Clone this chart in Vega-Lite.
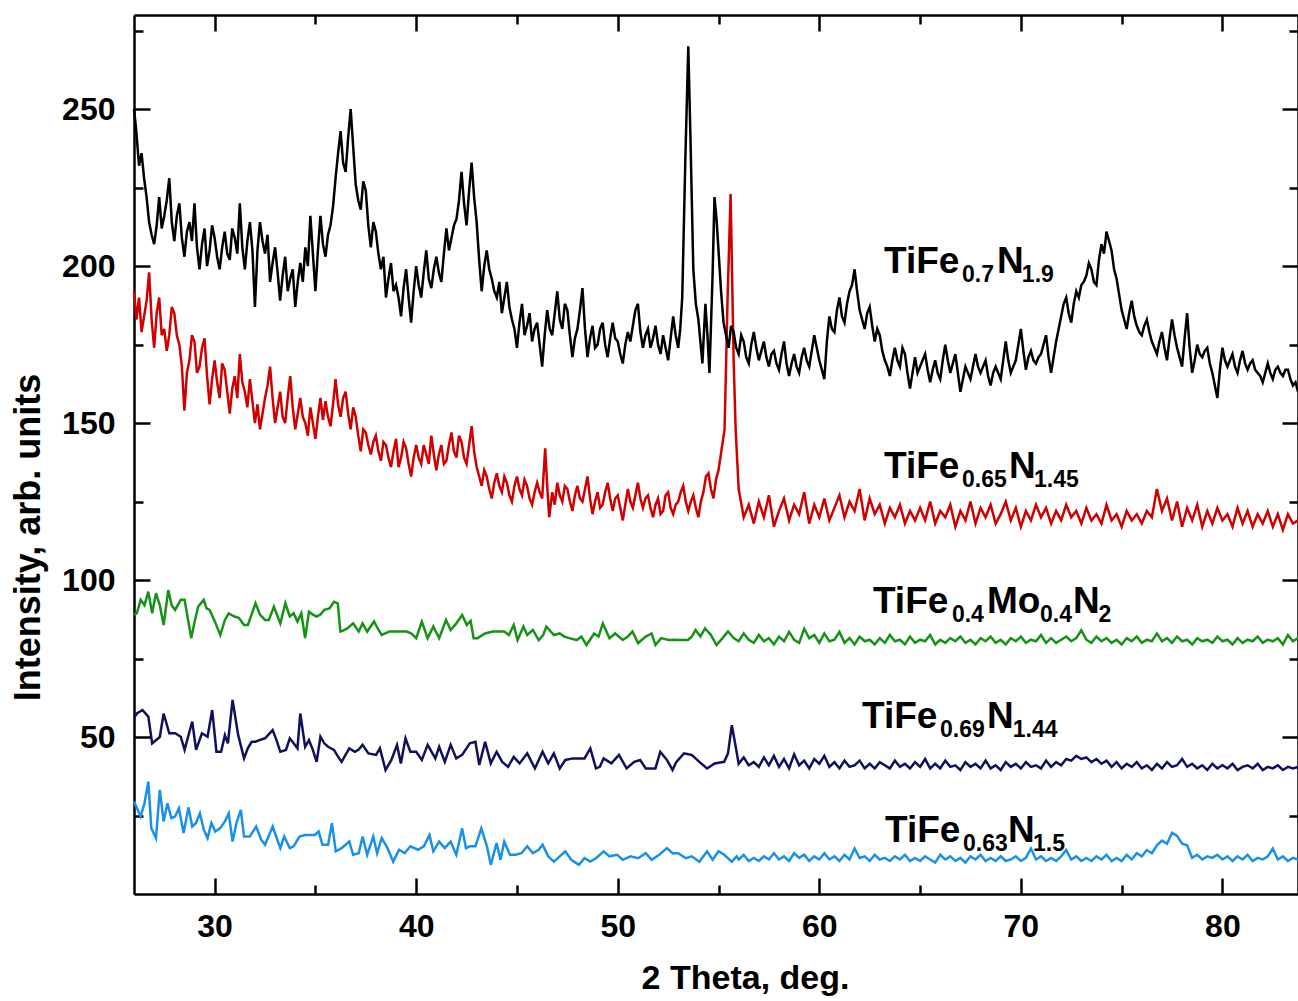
{
  "$schema": "https://vega.github.io/schema/vega-lite/v6.json",
  "autosize": "none",
  "width": 1164,
  "height": 879,
  "padding": {"left": 134, "top": 15, "right": 0, "bottom": 107},
  "background": "white",
  "config": {"view": {"stroke": null}, "font": "Liberation Sans", "axis": {"grid": false}},
  "datasets": {
    "k": [
      {"x":26.0,"y":250},{"x":26.1,"y":244},{"x":26.25,"y":232},{"x":26.375,"y":236},{"x":26.5,"y":228},{"x":26.625,"y":222},{"x":26.75,"y":214},{"x":26.875,"y":210},{"x":27.0,"y":207},{"x":27.125,"y":213},{"x":27.25,"y":222},{"x":27.375,"y":212},{"x":27.5,"y":216},{"x":27.625,"y":221},{"x":27.75,"y":228},{"x":27.875,"y":214},{"x":28.0,"y":208},{"x":28.125,"y":216},{"x":28.25,"y":220},{"x":28.375,"y":209},{"x":28.5,"y":203},{"x":28.625,"y":211},{"x":28.75,"y":214},{"x":28.875,"y":208},{"x":29.0,"y":220},{"x":29.125,"y":206},{"x":29.25,"y":199},{"x":29.375,"y":207},{"x":29.5,"y":212},{"x":29.625,"y":200},{"x":29.75,"y":205},{"x":29.875,"y":213},{"x":30.0,"y":209},{"x":30.125,"y":203},{"x":30.25,"y":199},{"x":30.375,"y":206},{"x":30.5,"y":211},{"x":30.625,"y":204},{"x":30.75,"y":202},{"x":30.875,"y":212},{"x":31.0,"y":209},{"x":31.125,"y":204},{"x":31.25,"y":220},{"x":31.375,"y":206},{"x":31.5,"y":199},{"x":31.625,"y":208},{"x":31.75,"y":214},{"x":31.875,"y":205},{"x":32.0,"y":187},{"x":32.125,"y":205},{"x":32.25,"y":214},{"x":32.375,"y":208},{"x":32.5,"y":204},{"x":32.625,"y":210},{"x":32.75,"y":195},{"x":32.875,"y":201},{"x":33.0,"y":206},{"x":33.125,"y":198},{"x":33.25,"y":189},{"x":33.375,"y":197},{"x":33.5,"y":203},{"x":33.625,"y":192},{"x":33.75,"y":196},{"x":33.875,"y":199},{"x":34.0,"y":187},{"x":34.125,"y":195},{"x":34.25,"y":201},{"x":34.375,"y":195},{"x":34.5,"y":206},{"x":34.625,"y":200},{"x":34.75,"y":216},{"x":34.875,"y":204},{"x":35.0,"y":192},{"x":35.125,"y":205},{"x":35.25,"y":216},{"x":35.375,"y":207},{"x":35.5,"y":203},{"x":35.625,"y":210},{"x":35.75,"y":213},{"x":35.875,"y":219},{"x":36.0,"y":228},{"x":36.125,"y":236},{"x":36.25,"y":243},{"x":36.375,"y":233},{"x":36.5,"y":230},{"x":36.625,"y":241},{"x":36.75,"y":250},{"x":36.875,"y":238},{"x":37.0,"y":226},{"x":37.125,"y":221},{"x":37.25,"y":218},{"x":37.375,"y":227},{"x":37.5,"y":224},{"x":37.625,"y":213},{"x":37.75,"y":206},{"x":37.875,"y":214},{"x":38.0,"y":211},{"x":38.125,"y":204},{"x":38.25,"y":199},{"x":38.375,"y":203},{"x":38.5,"y":190},{"x":38.625,"y":196},{"x":38.75,"y":201},{"x":38.875,"y":192},{"x":39.0,"y":194},{"x":39.125,"y":190},{"x":39.25,"y":184},{"x":39.375,"y":193},{"x":39.5,"y":199},{"x":39.625,"y":190},{"x":39.75,"y":182},{"x":39.875,"y":192},{"x":40.0,"y":200},{"x":40.125,"y":194},{"x":40.25,"y":190},{"x":40.375,"y":198},{"x":40.5,"y":205},{"x":40.625,"y":196},{"x":40.75,"y":193},{"x":40.875,"y":199},{"x":41.0,"y":203},{"x":41.125,"y":198},{"x":41.25,"y":195},{"x":41.375,"y":204},{"x":41.5,"y":212},{"x":41.625,"y":205},{"x":41.75,"y":209},{"x":41.875,"y":213},{"x":42.0,"y":215},{"x":42.125,"y":221},{"x":42.25,"y":230},{"x":42.375,"y":220},{"x":42.5,"y":213},{"x":42.625,"y":224},{"x":42.75,"y":233},{"x":42.875,"y":222},{"x":43.0,"y":214},{"x":43.125,"y":202},{"x":43.25,"y":192},{"x":43.375,"y":200},{"x":43.5,"y":205},{"x":43.625,"y":199},{"x":43.75,"y":196},{"x":43.875,"y":192},{"x":44.0,"y":190},{"x":44.125,"y":195},{"x":44.25,"y":185},{"x":44.375,"y":190},{"x":44.5,"y":195},{"x":44.625,"y":187},{"x":44.75,"y":183},{"x":44.875,"y":180},{"x":45.0,"y":174},{"x":45.125,"y":182},{"x":45.25,"y":188},{"x":45.375,"y":178},{"x":45.5,"y":181},{"x":45.625,"y":185},{"x":45.75,"y":176},{"x":45.875,"y":180},{"x":46.0,"y":182},{"x":46.125,"y":175},{"x":46.25,"y":168},{"x":46.375,"y":178},{"x":46.5,"y":186},{"x":46.625,"y":180},{"x":46.75,"y":178},{"x":46.875,"y":185},{"x":47.0,"y":192},{"x":47.125,"y":183},{"x":47.25,"y":180},{"x":47.375,"y":188},{"x":47.5,"y":186},{"x":47.625,"y":178},{"x":47.75,"y":171},{"x":47.875,"y":177},{"x":48.0,"y":180},{"x":48.125,"y":186},{"x":48.25,"y":193},{"x":48.375,"y":180},{"x":48.5,"y":171},{"x":48.625,"y":177},{"x":48.75,"y":181},{"x":48.875,"y":174},{"x":49.0,"y":175},{"x":49.125,"y":180},{"x":49.25,"y":182},{"x":49.375,"y":175},{"x":49.5,"y":171},{"x":49.625,"y":177},{"x":49.75,"y":182},{"x":49.875,"y":177},{"x":50.0,"y":176},{"x":50.125,"y":172},{"x":50.25,"y":169},{"x":50.375,"y":175},{"x":50.5,"y":179},{"x":50.625,"y":176},{"x":50.75,"y":181},{"x":50.875,"y":186},{"x":51.0,"y":188},{"x":51.125,"y":179},{"x":51.25,"y":174},{"x":51.375,"y":178},{"x":51.5,"y":180},{"x":51.625,"y":174},{"x":51.75,"y":177},{"x":51.875,"y":181},{"x":52.0,"y":175},{"x":52.125,"y":172},{"x":52.25,"y":178},{"x":52.375,"y":174},{"x":52.5,"y":170},{"x":52.625,"y":177},{"x":52.75,"y":184},{"x":52.875,"y":178},{"x":53.0,"y":174},{"x":53.1,"y":180},{"x":53.2,"y":190},{"x":53.35,"y":233},{"x":53.5,"y":270},{"x":53.6,"y":243},{"x":53.75,"y":199},{"x":53.875,"y":188},{"x":54.0,"y":183},{"x":54.1,"y":176},{"x":54.2,"y":169},{"x":54.35,"y":188},{"x":54.45,"y":178},{"x":54.55,"y":166},{"x":54.7,"y":196},{"x":54.8,"y":222},{"x":54.9,"y":215},{"x":55.0,"y":205},{"x":55.125,"y":192},{"x":55.25,"y":182},{"x":55.375,"y":178},{"x":55.5,"y":174},{"x":55.625,"y":181},{"x":55.75,"y":179},{"x":55.875,"y":174},{"x":56.0,"y":172},{"x":56.125,"y":178},{"x":56.25,"y":176},{"x":56.375,"y":171},{"x":56.5,"y":169},{"x":56.625,"y":175},{"x":56.75,"y":179},{"x":56.875,"y":174},{"x":57.0,"y":170},{"x":57.125,"y":173},{"x":57.25,"y":176},{"x":57.375,"y":171},{"x":57.5,"y":168},{"x":57.625,"y":172},{"x":57.75,"y":173},{"x":57.875,"y":169},{"x":58.0,"y":167},{"x":58.125,"y":172},{"x":58.25,"y":176},{"x":58.375,"y":169},{"x":58.5,"y":165},{"x":58.625,"y":169},{"x":58.75,"y":172},{"x":58.875,"y":168},{"x":59.0,"y":166},{"x":59.125,"y":171},{"x":59.25,"y":174},{"x":59.375,"y":170},{"x":59.5,"y":168},{"x":59.625,"y":173},{"x":59.75,"y":178},{"x":59.875,"y":174},{"x":60.0,"y":170},{"x":60.125,"y":167},{"x":60.25,"y":164},{"x":60.375,"y":176},{"x":60.5,"y":184},{"x":60.625,"y":180},{"x":60.75,"y":179},{"x":60.875,"y":186},{"x":61.0,"y":190},{"x":61.125,"y":184},{"x":61.25,"y":182},{"x":61.375,"y":188},{"x":61.5,"y":192},{"x":61.625,"y":194},{"x":61.75,"y":199},{"x":61.875,"y":192},{"x":62.0,"y":186},{"x":62.125,"y":183},{"x":62.25,"y":180},{"x":62.375,"y":185},{"x":62.5,"y":187},{"x":62.625,"y":181},{"x":62.75,"y":176},{"x":62.875,"y":180},{"x":63.0,"y":178},{"x":63.125,"y":173},{"x":63.25,"y":170},{"x":63.375,"y":168},{"x":63.5,"y":165},{"x":63.625,"y":170},{"x":63.75,"y":174},{"x":63.875,"y":170},{"x":64.0,"y":168},{"x":64.125,"y":174},{"x":64.25,"y":172},{"x":64.375,"y":166},{"x":64.5,"y":161},{"x":64.625,"y":166},{"x":64.75,"y":171},{"x":64.875,"y":166},{"x":65.0,"y":168},{"x":65.125,"y":170},{"x":65.25,"y":172},{"x":65.375,"y":167},{"x":65.5,"y":163},{"x":65.625,"y":167},{"x":65.75,"y":170},{"x":65.875,"y":166},{"x":66.0,"y":164},{"x":66.125,"y":170},{"x":66.25,"y":175},{"x":66.375,"y":170},{"x":66.5,"y":166},{"x":66.625,"y":169},{"x":66.75,"y":172},{"x":66.875,"y":166},{"x":67.0,"y":160},{"x":67.125,"y":164},{"x":67.25,"y":168},{"x":67.375,"y":166},{"x":67.5,"y":164},{"x":67.625,"y":168},{"x":67.75,"y":172},{"x":67.875,"y":168},{"x":68.0,"y":166},{"x":68.125,"y":168},{"x":68.25,"y":170},{"x":68.375,"y":165},{"x":68.5,"y":162},{"x":68.625,"y":166},{"x":68.75,"y":168},{"x":68.875,"y":166},{"x":69.0,"y":164},{"x":69.125,"y":170},{"x":69.25,"y":176},{"x":69.375,"y":170},{"x":69.5,"y":166},{"x":69.625,"y":168},{"x":69.75,"y":170},{"x":69.875,"y":175},{"x":70.0,"y":180},{"x":70.125,"y":173},{"x":70.25,"y":167},{"x":70.375,"y":171},{"x":70.5,"y":173},{"x":70.625,"y":170},{"x":70.75,"y":169},{"x":70.875,"y":171},{"x":71.0,"y":172},{"x":71.125,"y":175},{"x":71.25,"y":178},{"x":71.375,"y":171},{"x":71.5,"y":166},{"x":71.625,"y":171},{"x":71.75,"y":176},{"x":71.875,"y":180},{"x":72.0,"y":184},{"x":72.125,"y":188},{"x":72.25,"y":190},{"x":72.375,"y":185},{"x":72.5,"y":182},{"x":72.625,"y":188},{"x":72.75,"y":192},{"x":72.875,"y":190},{"x":73.0,"y":194},{"x":73.125,"y":195},{"x":73.25,"y":197},{"x":73.375,"y":201},{"x":73.5,"y":199},{"x":73.625,"y":195},{"x":73.75,"y":194},{"x":73.875,"y":202},{"x":74.0,"y":207},{"x":74.125,"y":204},{"x":74.25,"y":211},{"x":74.375,"y":208},{"x":74.5,"y":205},{"x":74.625,"y":199},{"x":74.75,"y":196},{"x":74.875,"y":191},{"x":75.0,"y":186},{"x":75.125,"y":183},{"x":75.25,"y":180},{"x":75.375,"y":185},{"x":75.5,"y":189},{"x":75.625,"y":184},{"x":75.75,"y":181},{"x":75.875,"y":179},{"x":76.0,"y":178},{"x":76.125,"y":181},{"x":76.25,"y":183},{"x":76.375,"y":179},{"x":76.5,"y":176},{"x":76.625,"y":174},{"x":76.75,"y":172},{"x":76.875,"y":176},{"x":77.0,"y":179},{"x":77.125,"y":174},{"x":77.25,"y":170},{"x":77.375,"y":177},{"x":77.5,"y":183},{"x":77.625,"y":178},{"x":77.75,"y":174},{"x":77.875,"y":171},{"x":78.0,"y":168},{"x":78.125,"y":177},{"x":78.25,"y":185},{"x":78.375,"y":174},{"x":78.5,"y":166},{"x":78.625,"y":170},{"x":78.75,"y":175},{"x":78.875,"y":172},{"x":79.0,"y":171},{"x":79.125,"y":173},{"x":79.25,"y":174},{"x":79.375,"y":169},{"x":79.5,"y":166},{"x":79.625,"y":162},{"x":79.75,"y":158},{"x":79.875,"y":167},{"x":80.0,"y":174},{"x":80.125,"y":170},{"x":80.25,"y":168},{"x":80.375,"y":170},{"x":80.5,"y":172},{"x":80.625,"y":168},{"x":80.75,"y":166},{"x":80.875,"y":170},{"x":81.0,"y":173},{"x":81.125,"y":169},{"x":81.25,"y":167},{"x":81.375,"y":169},{"x":81.5,"y":170},{"x":81.625,"y":167},{"x":81.75,"y":166},{"x":81.875,"y":165},{"x":82.0,"y":163},{"x":82.125,"y":166},{"x":82.25,"y":169},{"x":82.375,"y":166},{"x":82.5,"y":164},{"x":82.625,"y":167},{"x":82.75,"y":168},{"x":82.875,"y":166},{"x":83.0,"y":165},{"x":83.125,"y":167},{"x":83.25,"y":167},{"x":83.375,"y":164},{"x":83.5,"y":162},{"x":83.625,"y":163},{"x":83.75,"y":160}
    ],
    "r": [
      {"x":26.0,"y":192},{"x":26.125,"y":183},{"x":26.25,"y":190},{"x":26.375,"y":179},{"x":26.5,"y":184},{"x":26.625,"y":189},{"x":26.75,"y":198},{"x":26.875,"y":183},{"x":27.0,"y":174},{"x":27.125,"y":185},{"x":27.25,"y":190},{"x":27.375,"y":178},{"x":27.5,"y":180},{"x":27.625,"y":173},{"x":27.75,"y":178},{"x":27.875,"y":187},{"x":28.0,"y":185},{"x":28.125,"y":178},{"x":28.25,"y":175},{"x":28.375,"y":168},{"x":28.5,"y":154},{"x":28.625,"y":166},{"x":28.75,"y":170},{"x":28.875,"y":178},{"x":29.0,"y":176},{"x":29.125,"y":166},{"x":29.25,"y":168},{"x":29.375,"y":174},{"x":29.5,"y":177},{"x":29.625,"y":165},{"x":29.75,"y":156},{"x":29.875,"y":164},{"x":30.0,"y":170},{"x":30.125,"y":163},{"x":30.25,"y":158},{"x":30.375,"y":169},{"x":30.5,"y":167},{"x":30.625,"y":160},{"x":30.75,"y":153},{"x":30.875,"y":161},{"x":31.0,"y":165},{"x":31.125,"y":158},{"x":31.25,"y":172},{"x":31.375,"y":163},{"x":31.5,"y":160},{"x":31.625,"y":155},{"x":31.75,"y":164},{"x":31.875,"y":157},{"x":32.0,"y":150},{"x":32.125,"y":156},{"x":32.25,"y":148},{"x":32.375,"y":153},{"x":32.5,"y":158},{"x":32.625,"y":162},{"x":32.75,"y":168},{"x":32.875,"y":158},{"x":33.0,"y":150},{"x":33.125,"y":155},{"x":33.25,"y":160},{"x":33.375,"y":152},{"x":33.5,"y":150},{"x":33.625,"y":158},{"x":33.75,"y":165},{"x":33.875,"y":155},{"x":34.0,"y":148},{"x":34.125,"y":153},{"x":34.25,"y":158},{"x":34.375,"y":152},{"x":34.5,"y":150},{"x":34.625,"y":146},{"x":34.75,"y":155},{"x":34.875,"y":150},{"x":35.0,"y":145},{"x":35.125,"y":152},{"x":35.25,"y":158},{"x":35.375,"y":151},{"x":35.5,"y":157},{"x":35.625,"y":152},{"x":35.75,"y":149},{"x":35.875,"y":156},{"x":36.0,"y":164},{"x":36.125,"y":156},{"x":36.25,"y":152},{"x":36.375,"y":158},{"x":36.5,"y":160},{"x":36.625,"y":153},{"x":36.75,"y":148},{"x":36.875,"y":155},{"x":37.0,"y":152},{"x":37.125,"y":146},{"x":37.25,"y":141},{"x":37.375,"y":148},{"x":37.5,"y":147},{"x":37.625,"y":143},{"x":37.75,"y":140},{"x":37.875,"y":144},{"x":38.0,"y":146},{"x":38.125,"y":141},{"x":38.25,"y":138},{"x":38.375,"y":144},{"x":38.5,"y":143},{"x":38.625,"y":139},{"x":38.75,"y":136},{"x":38.875,"y":141},{"x":39.0,"y":145},{"x":39.125,"y":136},{"x":39.25,"y":139},{"x":39.375,"y":144},{"x":39.5,"y":142},{"x":39.625,"y":137},{"x":39.75,"y":133},{"x":39.875,"y":139},{"x":40.0,"y":143},{"x":40.125,"y":139},{"x":40.25,"y":137},{"x":40.375,"y":143},{"x":40.5,"y":140},{"x":40.625,"y":137},{"x":40.75,"y":146},{"x":40.875,"y":140},{"x":41.0,"y":135},{"x":41.125,"y":140},{"x":41.25,"y":143},{"x":41.375,"y":137},{"x":41.5,"y":138},{"x":41.625,"y":143},{"x":41.75,"y":147},{"x":41.875,"y":141},{"x":42.0,"y":139},{"x":42.125,"y":146},{"x":42.25,"y":144},{"x":42.375,"y":139},{"x":42.5,"y":137},{"x":42.625,"y":143},{"x":42.75,"y":149},{"x":42.875,"y":141},{"x":43.0,"y":136},{"x":43.125,"y":133},{"x":43.25,"y":130},{"x":43.375,"y":135},{"x":43.5,"y":133},{"x":43.625,"y":129},{"x":43.75,"y":126},{"x":43.875,"y":131},{"x":44.0,"y":134},{"x":44.125,"y":130},{"x":44.25,"y":128},{"x":44.375,"y":133},{"x":44.5,"y":131},{"x":44.625,"y":127},{"x":44.75,"y":125},{"x":44.875,"y":130},{"x":45.0,"y":133},{"x":45.125,"y":129},{"x":45.25,"y":127},{"x":45.375,"y":132},{"x":45.5,"y":130},{"x":45.625,"y":126},{"x":45.75,"y":124},{"x":45.875,"y":128},{"x":46.0,"y":131},{"x":46.125,"y":128},{"x":46.25,"y":126},{"x":46.4,"y":142},{"x":46.5,"y":130},{"x":46.6,"y":120},{"x":46.75,"y":128},{"x":46.875,"y":124},{"x":47.0,"y":131},{"x":47.125,"y":127},{"x":47.25,"y":125},{"x":47.375,"y":130},{"x":47.5,"y":129},{"x":47.625,"y":125},{"x":47.75,"y":122},{"x":47.875,"y":127},{"x":48.0,"y":130},{"x":48.125,"y":126},{"x":48.25,"y":125},{"x":48.375,"y":129},{"x":48.5,"y":133},{"x":48.625,"y":126},{"x":48.75,"y":121},{"x":48.875,"y":125},{"x":49.0,"y":128},{"x":49.125,"y":123},{"x":49.25,"y":124},{"x":49.375,"y":128},{"x":49.5,"y":131},{"x":49.625,"y":126},{"x":49.75,"y":122},{"x":49.875,"y":126},{"x":50.0,"y":127},{"x":50.125,"y":123},{"x":50.25,"y":119},{"x":50.375,"y":124},{"x":50.5,"y":129},{"x":50.625,"y":125},{"x":50.75,"y":123},{"x":50.875,"y":127},{"x":51.0,"y":131},{"x":51.125,"y":126},{"x":51.25,"y":123},{"x":51.375,"y":126},{"x":51.5,"y":127},{"x":51.625,"y":123},{"x":51.75,"y":120},{"x":51.875,"y":124},{"x":52.0,"y":126},{"x":52.125,"y":121},{"x":52.25,"y":122},{"x":52.375,"y":127},{"x":52.5,"y":128},{"x":52.625,"y":123},{"x":52.75,"y":121},{"x":52.875,"y":124},{"x":53.0,"y":125},{"x":53.125,"y":128},{"x":53.25,"y":130},{"x":53.375,"y":125},{"x":53.5,"y":122},{"x":53.625,"y":125},{"x":53.75,"y":127},{"x":53.875,"y":123},{"x":54.0,"y":120},{"x":54.125,"y":125},{"x":54.25,"y":128},{"x":54.375,"y":133},{"x":54.5,"y":134},{"x":54.625,"y":129},{"x":54.75,"y":126},{"x":54.875,"y":132},{"x":55.0,"y":135},{"x":55.3,"y":148},{"x":55.45,"y":190},{"x":55.6,"y":223},{"x":55.75,"y":170},{"x":55.85,"y":148},{"x":56.0,"y":129},{"x":56.25,"y":120},{"x":56.5,"y":124},{"x":56.75,"y":118},{"x":57.0,"y":125},{"x":57.25,"y":120},{"x":57.5,"y":127},{"x":57.75,"y":117},{"x":58.0,"y":122},{"x":58.25,"y":126},{"x":58.5,"y":119},{"x":58.75,"y":124},{"x":59.0,"y":121},{"x":59.25,"y":128},{"x":59.5,"y":118},{"x":59.75,"y":124},{"x":60.0,"y":120},{"x":60.25,"y":126},{"x":60.5,"y":119},{"x":60.75,"y":123},{"x":61.0,"y":127},{"x":61.25,"y":120},{"x":61.5,"y":125},{"x":61.75,"y":122},{"x":62.0,"y":129},{"x":62.25,"y":119},{"x":62.5,"y":126},{"x":62.75,"y":121},{"x":63.0,"y":124},{"x":63.25,"y":118},{"x":63.5,"y":123},{"x":63.75,"y":120},{"x":64.0,"y":124},{"x":64.25,"y":118},{"x":64.5,"y":122},{"x":64.75,"y":119},{"x":65.0,"y":123},{"x":65.25,"y":119},{"x":65.5,"y":125},{"x":65.75,"y":118},{"x":66.0,"y":122},{"x":66.25,"y":120},{"x":66.5,"y":124},{"x":66.75,"y":117},{"x":67.0,"y":122},{"x":67.25,"y":119},{"x":67.5,"y":125},{"x":67.75,"y":118},{"x":68.0,"y":123},{"x":68.25,"y":120},{"x":68.5,"y":124},{"x":68.75,"y":118},{"x":69.0,"y":121},{"x":69.25,"y":125},{"x":69.5,"y":119},{"x":69.75,"y":123},{"x":70.0,"y":117},{"x":70.25,"y":122},{"x":70.5,"y":119},{"x":70.75,"y":124},{"x":71.0,"y":120},{"x":71.25,"y":123},{"x":71.5,"y":118},{"x":71.75,"y":122},{"x":72.0,"y":119},{"x":72.25,"y":124},{"x":72.5,"y":120},{"x":72.75,"y":122},{"x":73.0,"y":118},{"x":73.25,"y":123},{"x":73.5,"y":119},{"x":73.75,"y":121},{"x":74.0,"y":118},{"x":74.25,"y":124},{"x":74.5,"y":119},{"x":74.75,"y":121},{"x":75.0,"y":117},{"x":75.25,"y":122},{"x":75.5,"y":119},{"x":75.75,"y":121},{"x":76.0,"y":118},{"x":76.25,"y":122},{"x":76.5,"y":120},{"x":76.75,"y":129},{"x":77.0,"y":122},{"x":77.25,"y":126},{"x":77.5,"y":119},{"x":77.75,"y":125},{"x":78.0,"y":117},{"x":78.25,"y":123},{"x":78.5,"y":119},{"x":78.75,"y":124},{"x":79.0,"y":117},{"x":79.25,"y":122},{"x":79.5,"y":118},{"x":79.75,"y":123},{"x":80.0,"y":119},{"x":80.25,"y":121},{"x":80.5,"y":117},{"x":80.75,"y":123},{"x":81.0,"y":118},{"x":81.25,"y":122},{"x":81.5,"y":117},{"x":81.75,"y":121},{"x":82.0,"y":118},{"x":82.25,"y":122},{"x":82.5,"y":117},{"x":82.75,"y":121},{"x":83.0,"y":116},{"x":83.25,"y":121},{"x":83.5,"y":118},{"x":83.75,"y":119}
    ],
    "g": [
      {"x":26.0,"y":89.0},{"x":26.14,"y":89.4},{"x":26.33,"y":93.7},{"x":26.52,"y":92.0},{"x":26.71,"y":96.3},{"x":26.9,"y":89.4},{"x":27.09,"y":95.8},{"x":27.28,"y":92.0},{"x":27.47,"y":85.7},{"x":27.7,"y":96.8},{"x":27.87,"y":92.0},{"x":28.04,"y":90.5},{"x":28.32,"y":93.7},{"x":28.51,"y":93.7},{"x":28.84,"y":81.5},{"x":29.0,"y":86.5},{"x":29.18,"y":91.5},{"x":29.46,"y":93.7},{"x":29.6,"y":91.0},{"x":29.75,"y":90.5},{"x":30.0,"y":87.0},{"x":30.28,"y":82.5},{"x":30.51,"y":87.3},{"x":30.7,"y":89.4},{"x":30.98,"y":88.4},{"x":31.2,"y":88.0},{"x":31.46,"y":85.7},{"x":31.65,"y":85.7},{"x":32.03,"y":92.6},{"x":32.25,"y":89.0},{"x":32.5,"y":87.3},{"x":32.69,"y":87.3},{"x":32.94,"y":91.5},{"x":33.26,"y":86.2},{"x":33.51,"y":92.6},{"x":33.73,"y":88.4},{"x":33.92,"y":89.4},{"x":34.11,"y":86.8},{"x":34.3,"y":89.4},{"x":34.49,"y":81.5},{"x":34.68,"y":89.9},{"x":34.87,"y":89.0},{"x":35.06,"y":88.4},{"x":35.25,"y":89.0},{"x":35.44,"y":90.5},{"x":35.7,"y":91.0},{"x":35.92,"y":93.1},{"x":36.11,"y":92.6},{"x":36.24,"y":83.6},{"x":36.4,"y":84.0},{"x":36.58,"y":84.6},{"x":36.87,"y":86.2},{"x":37.15,"y":83.6},{"x":37.34,"y":86.2},{"x":37.57,"y":83.6},{"x":37.91,"y":86.8},{"x":38.1,"y":84.5},{"x":38.29,"y":82.5},{"x":38.67,"y":83.6},{"x":38.9,"y":83.6},{"x":39.2,"y":83.6},{"x":39.52,"y":83.6},{"x":39.75,"y":83.0},{"x":40.0,"y":81.5},{"x":40.28,"y":86.8},{"x":40.57,"y":81.5},{"x":40.85,"y":85.2},{"x":41.14,"y":81.5},{"x":41.48,"y":87.3},{"x":41.71,"y":84.1},{"x":41.99,"y":86.2},{"x":42.28,"y":88.9},{"x":42.51,"y":85.7},{"x":42.7,"y":87.0},{"x":42.85,"y":81.5},{"x":43.04,"y":81.5},{"x":43.42,"y":83.0},{"x":43.8,"y":83.6},{"x":44.1,"y":83.6},{"x":44.37,"y":83.6},{"x":44.6,"y":82.5},{"x":44.84,"y":85.7},{"x":45.03,"y":80.9},{"x":45.32,"y":85.2},{"x":45.51,"y":82.5},{"x":45.79,"y":84.1},{"x":46.08,"y":80.9},{"x":46.3,"y":82.5},{"x":46.46,"y":85.2},{"x":46.83,"y":82.5},{"x":47.12,"y":83.0},{"x":47.35,"y":82.0},{"x":47.59,"y":81.5},{"x":47.97,"y":80.9},{"x":48.2,"y":82.0},{"x":48.45,"y":79.3},{"x":48.83,"y":83.0},{"x":49.05,"y":82.0},{"x":49.26,"y":86.2},{"x":49.59,"y":81.5},{"x":49.87,"y":83.0},{"x":50.25,"y":80.9},{"x":50.5,"y":82.0},{"x":50.73,"y":83.6},{"x":51.01,"y":79.9},{"x":51.2,"y":81.0},{"x":51.39,"y":82.0},{"x":51.68,"y":83.0},{"x":51.87,"y":79.3},{"x":52.15,"y":81.5},{"x":52.53,"y":80.9},{"x":52.8,"y":81.0},{"x":53.1,"y":80.9},{"x":53.48,"y":80.9},{"x":53.67,"y":82.0},{"x":53.86,"y":84.1},{"x":54.1,"y":82.0},{"x":54.33,"y":84.6},{"x":54.62,"y":82.5},{"x":54.9,"y":79.3},{"x":55.2,"y":81.5},{"x":55.47,"y":83.6},{"x":55.75,"y":81.5},{"x":56.0,"y":80.5},{"x":56.25,"y":83.0},{"x":56.5,"y":81.0},{"x":56.75,"y":80.0},{"x":57.0,"y":82.5},{"x":57.25,"y":80.5},{"x":57.5,"y":81.5},{"x":57.75,"y":79.5},{"x":58.0,"y":82.0},{"x":58.25,"y":80.5},{"x":58.5,"y":83.5},{"x":58.75,"y":81.0},{"x":59.0,"y":80.0},{"x":59.25,"y":84.5},{"x":59.5,"y":81.5},{"x":59.75,"y":82.5},{"x":60.0,"y":80.0},{"x":60.25,"y":83.0},{"x":60.5,"y":80.5},{"x":60.75,"y":81.0},{"x":61.0,"y":83.5},{"x":61.25,"y":80.0},{"x":61.5,"y":81.5},{"x":61.75,"y":79.5},{"x":62.0,"y":82.0},{"x":62.25,"y":80.5},{"x":62.5,"y":81.0},{"x":62.75,"y":79.5},{"x":63.0,"y":81.5},{"x":63.25,"y":80.0},{"x":63.5,"y":82.5},{"x":63.75,"y":80.5},{"x":64.0,"y":81.0},{"x":64.25,"y":79.5},{"x":64.5,"y":82.0},{"x":64.75,"y":80.0},{"x":65.0,"y":81.0},{"x":65.25,"y":80.5},{"x":65.5,"y":82.5},{"x":65.75,"y":79.5},{"x":66.0,"y":81.0},{"x":66.25,"y":80.0},{"x":66.5,"y":81.5},{"x":66.75,"y":80.5},{"x":67.0,"y":82.0},{"x":67.25,"y":80.0},{"x":67.5,"y":81.0},{"x":67.75,"y":79.5},{"x":68.0,"y":81.5},{"x":68.25,"y":80.5},{"x":68.5,"y":82.0},{"x":68.75,"y":80.0},{"x":69.0,"y":81.0},{"x":69.25,"y":79.5},{"x":69.5,"y":81.5},{"x":69.75,"y":80.5},{"x":70.0,"y":82.0},{"x":70.25,"y":80.0},{"x":70.5,"y":81.0},{"x":70.75,"y":80.5},{"x":71.0,"y":82.5},{"x":71.25,"y":80.0},{"x":71.5,"y":81.5},{"x":71.75,"y":80.0},{"x":72.0,"y":81.0},{"x":72.25,"y":82.0},{"x":72.5,"y":80.5},{"x":72.75,"y":81.5},{"x":73.0,"y":84.0},{"x":73.25,"y":81.0},{"x":73.5,"y":80.0},{"x":73.75,"y":82.0},{"x":74.0,"y":80.5},{"x":74.25,"y":81.5},{"x":74.5,"y":80.0},{"x":74.75,"y":81.0},{"x":75.0,"y":79.5},{"x":75.25,"y":81.5},{"x":75.5,"y":80.5},{"x":75.75,"y":82.0},{"x":76.0,"y":80.0},{"x":76.25,"y":81.0},{"x":76.5,"y":80.5},{"x":76.75,"y":83.0},{"x":77.0,"y":80.5},{"x":77.25,"y":81.5},{"x":77.5,"y":80.0},{"x":77.75,"y":82.0},{"x":78.0,"y":80.5},{"x":78.25,"y":81.0},{"x":78.5,"y":79.5},{"x":78.75,"y":81.5},{"x":79.0,"y":80.5},{"x":79.25,"y":81.0},{"x":79.5,"y":80.0},{"x":79.75,"y":82.0},{"x":80.0,"y":80.5},{"x":80.25,"y":81.0},{"x":80.5,"y":79.5},{"x":80.75,"y":81.5},{"x":81.0,"y":80.0},{"x":81.25,"y":81.0},{"x":81.5,"y":80.5},{"x":81.75,"y":82.0},{"x":82.0,"y":80.0},{"x":82.25,"y":81.0},{"x":82.5,"y":80.5},{"x":82.75,"y":81.5},{"x":83.0,"y":79.5},{"x":83.25,"y":82.5},{"x":83.5,"y":80.5},{"x":83.75,"y":81.5}
    ],
    "n": [
      {"x":26.0,"y":56.0},{"x":26.14,"y":57.5},{"x":26.42,"y":58.6},{"x":26.71,"y":56.5},{"x":26.9,"y":48.0},{"x":27.09,"y":49.0},{"x":27.28,"y":50.0},{"x":27.47,"y":57.5},{"x":27.75,"y":51.2},{"x":28.04,"y":51.2},{"x":28.32,"y":50.1},{"x":28.51,"y":45.9},{"x":28.7,"y":50.5},{"x":28.89,"y":54.9},{"x":29.08,"y":45.9},{"x":29.37,"y":51.2},{"x":29.65,"y":50.1},{"x":29.88,"y":58.6},{"x":30.09,"y":45.3},{"x":30.32,"y":45.3},{"x":30.51,"y":50.6},{"x":30.66,"y":48.0},{"x":30.89,"y":61.8},{"x":31.17,"y":50.6},{"x":31.46,"y":43.2},{"x":31.65,"y":46.5},{"x":31.84,"y":48.5},{"x":32.03,"y":48.5},{"x":32.22,"y":49.0},{"x":32.5,"y":49.6},{"x":32.88,"y":52.2},{"x":33.07,"y":49.0},{"x":33.26,"y":45.3},{"x":33.54,"y":45.9},{"x":33.73,"y":49.6},{"x":33.92,"y":48.0},{"x":34.11,"y":46.4},{"x":34.25,"y":57.5},{"x":34.49,"y":46.9},{"x":34.68,"y":49.0},{"x":34.87,"y":46.0},{"x":35.06,"y":42.1},{"x":35.25,"y":50.1},{"x":35.44,"y":48.0},{"x":35.63,"y":46.9},{"x":35.92,"y":45.9},{"x":36.1,"y":44.0},{"x":36.3,"y":42.1},{"x":36.68,"y":46.4},{"x":36.96,"y":45.3},{"x":37.15,"y":46.0},{"x":37.34,"y":47.5},{"x":37.63,"y":44.8},{"x":38.01,"y":44.3},{"x":38.2,"y":46.4},{"x":38.48,"y":39.5},{"x":38.77,"y":42.7},{"x":39.05,"y":47.5},{"x":39.24,"y":41.6},{"x":39.47,"y":49.6},{"x":39.71,"y":45.3},{"x":40.0,"y":45.3},{"x":40.28,"y":42.7},{"x":40.57,"y":47.5},{"x":40.95,"y":43.2},{"x":41.14,"y":46.9},{"x":41.42,"y":42.1},{"x":41.71,"y":47.5},{"x":41.99,"y":43.2},{"x":42.28,"y":44.3},{"x":42.66,"y":48.0},{"x":42.94,"y":48.5},{"x":43.13,"y":41.1},{"x":43.42,"y":48.5},{"x":43.7,"y":41.6},{"x":43.99,"y":45.3},{"x":44.27,"y":42.1},{"x":44.56,"y":40.5},{"x":44.84,"y":43.7},{"x":45.13,"y":41.6},{"x":45.51,"y":44.8},{"x":45.89,"y":40.0},{"x":46.27,"y":45.3},{"x":46.55,"y":41.6},{"x":46.83,"y":44.8},{"x":47.12,"y":40.0},{"x":47.4,"y":42.7},{"x":47.78,"y":43.2},{"x":48.07,"y":43.2},{"x":48.35,"y":43.2},{"x":48.64,"y":46.4},{"x":48.92,"y":40.0},{"x":49.11,"y":40.5},{"x":49.3,"y":43.2},{"x":49.68,"y":41.6},{"x":50.06,"y":44.3},{"x":50.44,"y":40.0},{"x":50.82,"y":42.1},{"x":51.11,"y":42.7},{"x":51.39,"y":40.0},{"x":51.63,"y":40.0},{"x":51.87,"y":40.0},{"x":52.11,"y":45.3},{"x":52.44,"y":42.7},{"x":52.72,"y":39.5},{"x":52.91,"y":42.1},{"x":53.29,"y":44.8},{"x":53.67,"y":44.3},{"x":54.05,"y":42.1},{"x":54.43,"y":40.0},{"x":54.81,"y":41.6},{"x":55.28,"y":42.1},{"x":55.47,"y":44.8},{"x":55.66,"y":53.8},{"x":55.85,"y":47.0},{"x":56.0,"y":41.5},{"x":56.25,"y":43.5},{"x":56.5,"y":41.0},{"x":56.75,"y":42.0},{"x":57.0,"y":40.5},{"x":57.25,"y":43.5},{"x":57.5,"y":41.0},{"x":57.75,"y":44.0},{"x":58.0,"y":40.5},{"x":58.25,"y":43.0},{"x":58.5,"y":40.0},{"x":58.75,"y":44.5},{"x":59.0,"y":41.0},{"x":59.25,"y":42.5},{"x":59.5,"y":40.0},{"x":59.75,"y":43.0},{"x":60.0,"y":41.5},{"x":60.25,"y":44.0},{"x":60.5,"y":40.5},{"x":60.75,"y":42.0},{"x":61.0,"y":40.0},{"x":61.25,"y":42.5},{"x":61.5,"y":40.5},{"x":61.75,"y":41.0},{"x":62.0,"y":42.5},{"x":62.25,"y":40.0},{"x":62.5,"y":41.5},{"x":62.75,"y":40.0},{"x":63.0,"y":42.0},{"x":63.25,"y":41.0},{"x":63.5,"y":40.0},{"x":63.75,"y":42.5},{"x":64.0,"y":40.5},{"x":64.25,"y":41.5},{"x":64.5,"y":40.0},{"x":64.75,"y":42.0},{"x":65.0,"y":40.5},{"x":65.25,"y":43.0},{"x":65.5,"y":40.0},{"x":65.75,"y":41.5},{"x":66.0,"y":40.0},{"x":66.25,"y":42.5},{"x":66.5,"y":40.5},{"x":66.75,"y":41.0},{"x":67.0,"y":39.5},{"x":67.25,"y":42.0},{"x":67.5,"y":40.5},{"x":67.75,"y":41.5},{"x":68.0,"y":40.0},{"x":68.25,"y":42.5},{"x":68.5,"y":40.0},{"x":68.75,"y":41.0},{"x":69.0,"y":39.5},{"x":69.25,"y":42.0},{"x":69.5,"y":40.5},{"x":69.75,"y":41.5},{"x":70.0,"y":40.0},{"x":70.25,"y":42.0},{"x":70.5,"y":40.5},{"x":70.75,"y":41.0},{"x":71.0,"y":40.0},{"x":71.25,"y":42.5},{"x":71.5,"y":40.5},{"x":71.75,"y":42.0},{"x":72.0,"y":41.0},{"x":72.25,"y":43.0},{"x":72.5,"y":42.5},{"x":72.75,"y":44.0},{"x":73.0,"y":43.0},{"x":73.25,"y":43.5},{"x":73.5,"y":42.0},{"x":73.75,"y":43.0},{"x":74.0,"y":41.5},{"x":74.25,"y":42.5},{"x":74.5,"y":40.5},{"x":74.75,"y":42.0},{"x":75.0,"y":40.0},{"x":75.25,"y":41.5},{"x":75.5,"y":40.5},{"x":75.75,"y":42.0},{"x":76.0,"y":40.0},{"x":76.25,"y":41.0},{"x":76.5,"y":39.5},{"x":76.75,"y":41.5},{"x":77.0,"y":40.0},{"x":77.25,"y":42.0},{"x":77.5,"y":40.5},{"x":77.75,"y":41.0},{"x":78.0,"y":43.0},{"x":78.25,"y":40.5},{"x":78.5,"y":41.5},{"x":78.75,"y":40.0},{"x":79.0,"y":41.0},{"x":79.25,"y":39.5},{"x":79.5,"y":41.5},{"x":79.75,"y":40.0},{"x":80.0,"y":41.0},{"x":80.25,"y":40.0},{"x":80.5,"y":41.5},{"x":80.75,"y":39.5},{"x":81.0,"y":40.5},{"x":81.25,"y":41.0},{"x":81.5,"y":40.0},{"x":81.75,"y":41.5},{"x":82.0,"y":39.5},{"x":82.25,"y":40.5},{"x":82.5,"y":40.0},{"x":82.75,"y":41.0},{"x":83.0,"y":39.5},{"x":83.25,"y":40.5},{"x":83.5,"y":40.0},{"x":83.75,"y":40.5}
    ],
    "b": [
      {"x":26.0,"y":29.5},{"x":26.17,"y":27.0},{"x":26.33,"y":24.7},{"x":26.52,"y":28.9},{"x":26.71,"y":35.8},{"x":26.86,"y":21.0},{"x":27.09,"y":17.8},{"x":27.28,"y":33.2},{"x":27.47,"y":23.1},{"x":27.66,"y":28.9},{"x":27.85,"y":24.2},{"x":28.04,"y":24.7},{"x":28.23,"y":27.3},{"x":28.46,"y":19.4},{"x":28.7,"y":27.6},{"x":28.89,"y":21.5},{"x":29.08,"y":22.6},{"x":29.27,"y":25.7},{"x":29.46,"y":20.5},{"x":29.65,"y":17.8},{"x":29.84,"y":22.6},{"x":30.03,"y":19.9},{"x":30.28,"y":21.0},{"x":30.51,"y":23.1},{"x":30.7,"y":25.7},{"x":30.89,"y":16.7},{"x":31.08,"y":22.6},{"x":31.3,"y":26.8},{"x":31.46,"y":18.3},{"x":31.74,"y":18.3},{"x":32.06,"y":21.5},{"x":32.31,"y":17.3},{"x":32.5,"y":15.7},{"x":32.88,"y":21.5},{"x":33.07,"y":18.0},{"x":33.26,"y":14.6},{"x":33.45,"y":18.3},{"x":33.73,"y":14.6},{"x":33.92,"y":15.2},{"x":34.21,"y":18.3},{"x":34.49,"y":18.8},{"x":34.73,"y":18.8},{"x":34.97,"y":18.8},{"x":35.16,"y":19.9},{"x":35.35,"y":15.7},{"x":35.63,"y":15.7},{"x":35.82,"y":22.6},{"x":36.01,"y":13.6},{"x":36.3,"y":14.6},{"x":36.68,"y":16.7},{"x":36.87,"y":12.5},{"x":37.15,"y":13.0},{"x":37.34,"y":18.3},{"x":37.57,"y":12.5},{"x":37.87,"y":18.3},{"x":38.06,"y":13.0},{"x":38.29,"y":17.8},{"x":38.58,"y":14.6},{"x":38.86,"y":10.3},{"x":39.15,"y":14.1},{"x":39.43,"y":13.0},{"x":39.71,"y":15.2},{"x":40.09,"y":14.1},{"x":40.38,"y":15.2},{"x":40.66,"y":18.8},{"x":40.85,"y":13.6},{"x":41.14,"y":16.7},{"x":41.42,"y":14.6},{"x":41.71,"y":16.7},{"x":41.99,"y":12.5},{"x":42.28,"y":20.9},{"x":42.47,"y":14.6},{"x":42.66,"y":15.2},{"x":42.94,"y":15.2},{"x":43.23,"y":20.9},{"x":43.51,"y":15.2},{"x":43.7,"y":9.3},{"x":43.99,"y":16.2},{"x":44.18,"y":10.9},{"x":44.37,"y":16.7},{"x":44.65,"y":12.5},{"x":44.94,"y":12.5},{"x":45.22,"y":13.0},{"x":45.51,"y":15.2},{"x":45.79,"y":13.0},{"x":46.08,"y":14.1},{"x":46.27,"y":15.7},{"x":46.55,"y":12.0},{"x":46.83,"y":10.3},{"x":47.12,"y":12.0},{"x":47.4,"y":13.6},{"x":47.69,"y":10.9},{"x":48.07,"y":9.3},{"x":48.35,"y":11.4},{"x":48.64,"y":10.3},{"x":48.92,"y":11.4},{"x":49.3,"y":13.6},{"x":49.59,"y":12.0},{"x":49.97,"y":12.5},{"x":50.25,"y":10.9},{"x":50.63,"y":12.0},{"x":51.01,"y":11.4},{"x":51.39,"y":13.0},{"x":51.68,"y":10.9},{"x":52.06,"y":12.5},{"x":52.44,"y":14.6},{"x":52.72,"y":13.0},{"x":53.0,"y":13.0},{"x":53.38,"y":11.4},{"x":53.67,"y":12.0},{"x":54.05,"y":10.3},{"x":54.43,"y":13.6},{"x":54.71,"y":10.9},{"x":55.0,"y":13.6},{"x":55.28,"y":12.5},{"x":55.66,"y":10.3},{"x":55.9,"y":12.0},{"x":56.0,"y":11.0},{"x":56.25,"y":12.5},{"x":56.5,"y":10.5},{"x":56.75,"y":11.5},{"x":57.0,"y":10.5},{"x":57.25,"y":12.0},{"x":57.5,"y":11.0},{"x":57.75,"y":13.0},{"x":58.0,"y":11.0},{"x":58.25,"y":12.0},{"x":58.5,"y":10.5},{"x":58.75,"y":13.0},{"x":59.0,"y":11.5},{"x":59.25,"y":12.5},{"x":59.5,"y":10.5},{"x":59.75,"y":12.0},{"x":60.0,"y":11.0},{"x":60.25,"y":13.0},{"x":60.5,"y":11.0},{"x":60.75,"y":12.0},{"x":61.0,"y":10.5},{"x":61.25,"y":12.5},{"x":61.5,"y":11.0},{"x":61.75,"y":14.5},{"x":62.0,"y":11.5},{"x":62.25,"y":12.0},{"x":62.5,"y":10.5},{"x":62.75,"y":12.5},{"x":63.0,"y":11.0},{"x":63.25,"y":11.5},{"x":63.5,"y":10.5},{"x":63.75,"y":12.0},{"x":64.0,"y":11.0},{"x":64.25,"y":12.5},{"x":64.5,"y":10.5},{"x":64.75,"y":11.5},{"x":65.0,"y":10.5},{"x":65.25,"y":12.0},{"x":65.5,"y":11.0},{"x":65.75,"y":10.0},{"x":66.0,"y":12.5},{"x":66.25,"y":11.0},{"x":66.5,"y":12.0},{"x":66.75,"y":10.5},{"x":67.0,"y":11.5},{"x":67.25,"y":10.0},{"x":67.5,"y":12.0},{"x":67.75,"y":11.0},{"x":68.0,"y":12.5},{"x":68.25,"y":10.5},{"x":68.5,"y":11.5},{"x":68.75,"y":10.5},{"x":69.0,"y":12.0},{"x":69.25,"y":10.5},{"x":69.5,"y":11.0},{"x":69.75,"y":12.0},{"x":70.0,"y":10.5},{"x":70.25,"y":11.5},{"x":70.5,"y":14.5},{"x":70.75,"y":11.0},{"x":71.0,"y":12.0},{"x":71.25,"y":10.5},{"x":71.5,"y":11.5},{"x":71.75,"y":10.5},{"x":72.0,"y":12.0},{"x":72.25,"y":14.0},{"x":72.5,"y":11.0},{"x":72.75,"y":12.0},{"x":73.0,"y":10.5},{"x":73.25,"y":11.5},{"x":73.5,"y":10.5},{"x":73.75,"y":12.0},{"x":74.0,"y":11.0},{"x":74.25,"y":12.5},{"x":74.5,"y":10.5},{"x":74.75,"y":11.5},{"x":75.0,"y":10.5},{"x":75.25,"y":12.5},{"x":75.5,"y":11.0},{"x":75.75,"y":13.0},{"x":76.0,"y":12.0},{"x":76.25,"y":14.0},{"x":76.5,"y":13.0},{"x":76.75,"y":15.5},{"x":77.0,"y":17.0},{"x":77.25,"y":16.0},{"x":77.5,"y":19.5},{"x":77.75,"y":18.5},{"x":78.0,"y":16.0},{"x":78.25,"y":15.5},{"x":78.5,"y":11.5},{"x":78.75,"y":12.5},{"x":79.0,"y":11.0},{"x":79.25,"y":12.0},{"x":79.5,"y":11.5},{"x":79.75,"y":12.5},{"x":80.0,"y":11.0},{"x":80.25,"y":12.0},{"x":80.5,"y":10.5},{"x":80.75,"y":12.0},{"x":81.0,"y":11.0},{"x":81.25,"y":12.5},{"x":81.5,"y":10.5},{"x":81.75,"y":11.5},{"x":82.0,"y":11.0},{"x":82.25,"y":12.0},{"x":82.5,"y":14.5},{"x":82.75,"y":11.0},{"x":83.0,"y":12.0},{"x":83.25,"y":10.5},{"x":83.5,"y":11.5},{"x":83.75,"y":11.0}
    ],
    "lab": [
      {"t":"TiFe","x":63.21,"y":197.8,"k":"m"},{"t":"0.7","x":67.08,"y":197.8,"k":"s"},{"t":"N","x":68.82,"y":197.8,"k":"m"},{"t":"1.9","x":70.05,"y":197.8,"k":"s"},
      {"t":"TiFe","x":63.21,"y":132.5,"k":"m"},{"t":"0.65","x":67.08,"y":132.5,"k":"s"},{"t":"N","x":69.41,"y":132.5,"k":"m"},{"t":"1.45","x":70.65,"y":132.5,"k":"s"},
      {"t":"TiFe","x":62.66,"y":89.5,"k":"m"},{"t":"0.4","x":66.58,"y":89.5,"k":"s"},{"t":"Mo","x":68.32,"y":89.5,"k":"m"},{"t":"0.4","x":70.95,"y":89.5,"k":"s"},{"t":"N","x":72.59,"y":89.5,"k":"m"},{"t":"2","x":73.85,"y":89.5,"k":"s"},
      {"t":"TiFe","x":62.12,"y":52.9,"k":"m"},{"t":"0.69","x":65.99,"y":52.9,"k":"s"},{"t":"N","x":68.32,"y":52.9,"k":"m"},{"t":"1.44","x":69.6,"y":52.9,"k":"s"},
      {"t":"TiFe","x":63.26,"y":16.6,"k":"m"},{"t":"0.63","x":67.13,"y":16.6,"k":"s"},{"t":"N","x":69.36,"y":16.6,"k":"m"},{"t":"1.5","x":70.6,"y":16.6,"k":"s"}
    ]
  },
  "layer": [
    {
      "encoding": {
        "x": {"field": "x", "type": "quantitative", "scale": {"domain": [26, 83.75], "nice": false, "zero": false},
          "axis": {"orient": "bottom", "values": [30,35,40,45,50,55,60,65,70,75,80],
            "labelExpr": "datum.value % 10 === 0 ? datum.label : ''",
            "tickSize": {"condition": {"test": "datum.value % 10 === 0", "value": -16}, "value": -9},
            "tickWidth": 2.5, "tickColor": "#000", "domainColor": "#000", "domainWidth": 2.5,
            "labelFont": "Liberation Sans", "labelFontSize": 32, "labelFontWeight": "bold", "labelColor": "#000",
            "labelPadding": 58, "labelBaseline": "alphabetic", "labelFlush": false, "labelOverlap": false,
            "title": "2 Theta, deg.", "titleFont": "Liberation Sans", "titleFontSize": 34, "titleFontWeight": "bold", "titleColor": "#000",
            "titleX": 611, "titleY": 94, "titleBaseline": "alphabetic", "titleAlign": "center", "titleAnchor": null}},
        "y": {"field": "y", "type": "quantitative", "scale": {"domain": [0, 280], "nice": false, "zero": false},
          "axis": {"orient": "left", "values": [25,50,75,100,125,150,175,200,225,250,275],
            "labelExpr": "datum.value % 50 === 0 ? datum.label : ''",
            "tickSize": {"condition": {"test": "datum.value % 50 === 0", "value": -16}, "value": -9},
            "tickWidth": 2.5, "tickColor": "#000", "domainColor": "#000", "domainWidth": 2.5,
            "labelFont": "Liberation Sans", "labelFontSize": 32, "labelFontWeight": "bold", "labelColor": "#000",
            "labelPadding": 35, "labelBaseline": "middle", "labelFlush": false, "labelOverlap": false,
            "title": "Intensity, arb. units", "titleFont": "Liberation Sans", "titleFontSize": 36, "titleFontWeight": "bold", "titleColor": "#000",
            "titleX": -95, "titleY": 522, "titleAngle": 270, "titleBaseline": "alphabetic", "titleAlign": "center", "titleAnchor": null}}
      },
      "layer": [
        {"data": {"name": "b"}, "mark": {"type": "line", "color": "#1a91e8", "strokeWidth": 2.5}},
        {"data": {"name": "n"}, "mark": {"type": "line", "color": "#10105e", "strokeWidth": 2.5}},
        {"data": {"name": "g"}, "mark": {"type": "line", "color": "#169216", "strokeWidth": 2.5}},
        {"data": {"name": "r"}, "mark": {"type": "line", "color": "#d00000", "strokeWidth": 2.5}},
        {"data": {"name": "k"}, "mark": {"type": "line", "color": "#000000", "strokeWidth": 2.5}}
      ]
    },
    {
      "data": {"name": "lab"},
      "encoding": {
        "x": {"field": "x", "type": "quantitative", "scale": {"domain": [26, 83.75], "nice": false, "zero": false},
          "axis": {"orient": "top", "values": [30,35,40,45,50,55,60,65,70,75,80], "labels": false, "title": null,
            "tickSize": {"condition": {"test": "datum.value % 10 === 0", "value": -16}, "value": -9},
            "tickWidth": 2.5, "tickColor": "#000", "domainColor": "#000", "domainWidth": 2.5}},
        "y": {"field": "y", "type": "quantitative", "scale": {"domain": [0, 280], "nice": false, "zero": false},
          "axis": {"orient": "right", "values": [25,50,75,100,125,150,175,200,225,250,275], "labels": false, "title": null,
            "tickSize": {"condition": {"test": "datum.value % 50 === 0", "value": -16}, "value": -9},
            "tickWidth": 2.5, "tickColor": "#000", "domainColor": "#000", "domainWidth": 2.5}},
        "text": {"field": "t", "type": "nominal"}
      },
      "layer": [
        {"transform": [{"filter": "datum.k === 'm'"}], "mark": {"type": "text", "align": "left", "baseline": "alphabetic", "font": "Liberation Sans", "fontSize": 37, "fontWeight": "bold", "color": "#000"}},
        {"transform": [{"filter": "datum.k === 's'"}], "mark": {"type": "text", "align": "left", "baseline": "alphabetic", "font": "Liberation Sans", "fontSize": 23, "fontWeight": "bold", "color": "#000", "dy": 9}}
      ]
    }
  ],
  "resolve": {"axis": {"x": "independent", "y": "independent"}}
}
